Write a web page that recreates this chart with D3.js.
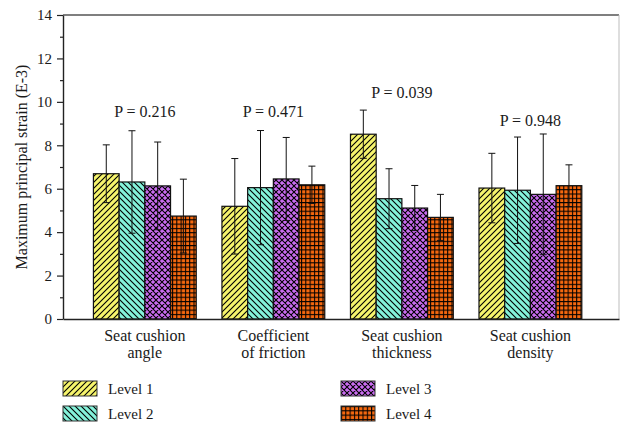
<!DOCTYPE html>
<html>
<head>
<meta charset="utf-8">
<script src="https://cdn.jsdelivr.net/npm/d3@7"></script>
<style>
  body { margin: 0; background: #fff; }
  svg { display: block; }
  svg text { font-family: "Liberation Serif", "Times New Roman", Tinos, "DejaVu Serif", serif !important; fill: #1a1a1a; }
</style>
</head>
<body>
<svg id="chart" width="630" height="433" font-family="Liberation Serif"></svg>
<script>
// ---- data ----
const categories = [["Seat cushion", "angle"], ["Coefficient", "of friction"], ["Seat cushion", "thickness"], ["Seat cushion", "density"]];
const levels = ["Level 1", "Level 2", "Level 3", "Level 4"];
const level1Mean = [6.69, 5.19, 8.51, 6.03];
const level1Sd   = [1.33, 2.20, 1.11, 1.60];
const level2Mean = [6.31, 6.05, 5.54, 5.93];
const level2Sd   = [2.36, 2.63, 1.38, 2.45];
const level3Mean = [6.13, 6.45, 5.11, 5.74];
const level3Sd   = [2.02, 1.91, 1.04, 2.78];
const level4Mean = [4.74, 6.18, 4.68, 6.14];
const level4Sd   = [1.70, 0.86, 1.06, 0.96];
const pValues = ["P = 0.216", "P = 0.471", "P = 0.039", "P = 0.948"];
const pLabelHeights = [9.29, 9.29, 10.17, 8.9];
const yTicks = [0, 2, 4, 6, 8, 10, 12, 14];
const yMinorTicks = [1, 3, 5, 7, 9, 11, 13];

const means = [level1Mean, level2Mean, level3Mean, level4Mean];
const sds = [level1Sd, level2Sd, level3Sd, level4Sd];
const colors = ["#f6f46c", "#84f2da", "#ca6cf0", "#f5680f"];

const svg = d3.select("#chart");
const pLeft = 63, pRight = 619, pTop = 15, pBottom = 319;
const serif = "Liberation Serif";

const catKeys = categories.map(c => c.join(" "));
const x = d3.scaleBand().domain(catKeys).range([pLeft, pRight])
  .paddingInner(0.2).paddingOuter(0.263).align(0.45);
const xi = d3.scaleBand().domain(levels).range([0, x.bandwidth()]).padding(0);
const y = d3.scaleLinear().domain([0, 14]).range([pBottom, pTop]);

// ---- patterns ----
const defs = svg.append("defs");
function pat(id, size, color, d) {
  const p = defs.append("pattern").attr("id", id).attr("patternUnits", "userSpaceOnUse")
    .attr("width", size).attr("height", size);
  p.append("rect").attr("width", size).attr("height", size).attr("fill", color);
  p.append("path").attr("d", d).attr("stroke", "#000").attr("stroke-width", 1.1).attr("fill", "none");
}
pat("p0", 6, colors[0], "M0,6 L6,0 M-1,1 L1,-1 M5,7 L7,5");
pat("p1", 6, colors[1], "M0,0 L6,6 M-1,5 L1,7 M5,-1 L7,1");
pat("p2", 6, colors[2], "M0,6 L6,0 M-1,1 L1,-1 M5,7 L7,5 M0,0 L6,6 M-1,5 L1,7 M5,-1 L7,1");
pat("p3", 4.3, colors[3], "M0,0.5 H4.3 M0.5,0 V4.3");

// ---- frame ----
svg.append("line").attr("x1", pLeft).attr("x2", pRight).attr("y1", pTop).attr("y2", pTop)
  .attr("stroke", "#555").attr("stroke-width", 1.6);
svg.append("line").attr("x1", pRight).attr("x2", pRight).attr("y1", pTop).attr("y2", pBottom)
  .attr("stroke", "#bdbdbd").attr("stroke-width", 1);

// ---- bars ----
const data = [];
catKeys.forEach((c, ci) => levels.forEach((l, li) => {
  data.push({ c, l, li, m: means[li][ci], s: sds[li][ci] });
}));

const g = svg.append("g");
g.selectAll("rect.bar").data(data).join("rect").attr("class", "bar")
  .attr("x", d => x(d.c) + xi(d.l))
  .attr("width", xi.bandwidth())
  .attr("y", d => y(d.m))
  .attr("height", d => y(0) - y(d.m))
  .attr("fill", d => `url(#p${d.li})`)
  .attr("stroke", "#111").attr("stroke-width", 1.2);

// error bars
const cap = 3.5;
const cx = d => x(d.c) + xi(d.l) + xi.bandwidth() / 2;
const eb = g.selectAll("g.eb").data(data).join("g").attr("class", "eb")
  .attr("stroke", "#111").attr("stroke-width", 1);
eb.append("line")
  .attr("x1", cx).attr("x2", cx)
  .attr("y1", d => y(d.m - d.s)).attr("y2", d => y(d.m + d.s));
eb.append("line")
  .attr("x1", d => cx(d) - cap).attr("x2", d => cx(d) + cap)
  .attr("y1", d => y(d.m + d.s)).attr("y2", d => y(d.m + d.s));
eb.append("line")
  .attr("x1", d => cx(d) - cap).attr("x2", d => cx(d) + cap)
  .attr("y1", d => y(d.m - d.s)).attr("y2", d => y(d.m - d.s));

// P labels
svg.selectAll("text.p").data(catKeys).join("text").attr("class", "p")
  .attr("x", d => x(d) + x.bandwidth() / 2)
  .attr("y", (d, i) => y(pLabelHeights[i]))
  .attr("text-anchor", "middle").attr("font-size", 16).attr("font-family", serif)
  .text((d, i) => pValues[i]);

// ---- axes ----
const yAxis = svg.append("g").attr("transform", `translate(${pLeft},0)`)
  .call(d3.axisLeft(y).tickValues(yTicks).tickSize(6).tickSizeOuter(0).tickPadding(5).tickFormat(d3.format("d")));
yAxis.attr("font-family", serif);
yAxis.select(".domain").attr("stroke", "#222").attr("stroke-width", 1.4);
yAxis.selectAll(".tick line").attr("stroke", "#222").attr("stroke-width", 1.2);
yAxis.selectAll(".tick text").attr("font-size", 15).attr("fill", "#1a1a1a");

const yMinor = svg.append("g").attr("transform", `translate(${pLeft},0)`)
  .call(d3.axisLeft(y).tickValues(yMinorTicks).tickSize(3).tickFormat(""));
yMinor.select(".domain").remove();
yMinor.selectAll(".tick line").attr("stroke", "#222").attr("stroke-width", 1.2);

const xAxis = svg.append("g").attr("transform", `translate(0,${pBottom})`)
  .call(d3.axisBottom(x).tickSize(0).tickSizeOuter(0));
xAxis.attr("font-family", serif);
xAxis.select(".domain").attr("stroke", "#222").attr("stroke-width", 1.4);
xAxis.selectAll(".tick text").each(function(d, i) {
  const t = d3.select(this);
  t.text(null).attr("y", null).attr("dy", null)
    .attr("font-size", 16).attr("fill", "#1a1a1a");
  categories[i].forEach((line, k) => {
    t.append("tspan").attr("x", 0).attr("y", 22 + k * 16.5).text(line);
  });
});

// y label
svg.append("text")
  .attr("transform", `translate(27,${(pTop + pBottom) / 2}) rotate(-90)`)
  .attr("text-anchor", "middle").attr("font-size", 16).attr("font-family", serif)
  .text("Maximum principal strain (E-3)");

// ---- legend ----
const legendPos = [[63, 381], [63, 406], [341, 381], [341, 406]];
const lg = svg.selectAll("g.lg").data(levels).join("g").attr("class", "lg")
  .attr("transform", (d, i) => `translate(${legendPos[i][0]},${legendPos[i][1]})`);
lg.append("rect").attr("width", 34).attr("height", 15)
  .attr("fill", (d, i) => `url(#p${i})`).attr("stroke", "#333").attr("stroke-width", 1);
lg.append("text").attr("x", 45).attr("y", 12.5).attr("font-size", 15).attr("font-family", serif).text(d => d);
</script>
</body>
</html>
